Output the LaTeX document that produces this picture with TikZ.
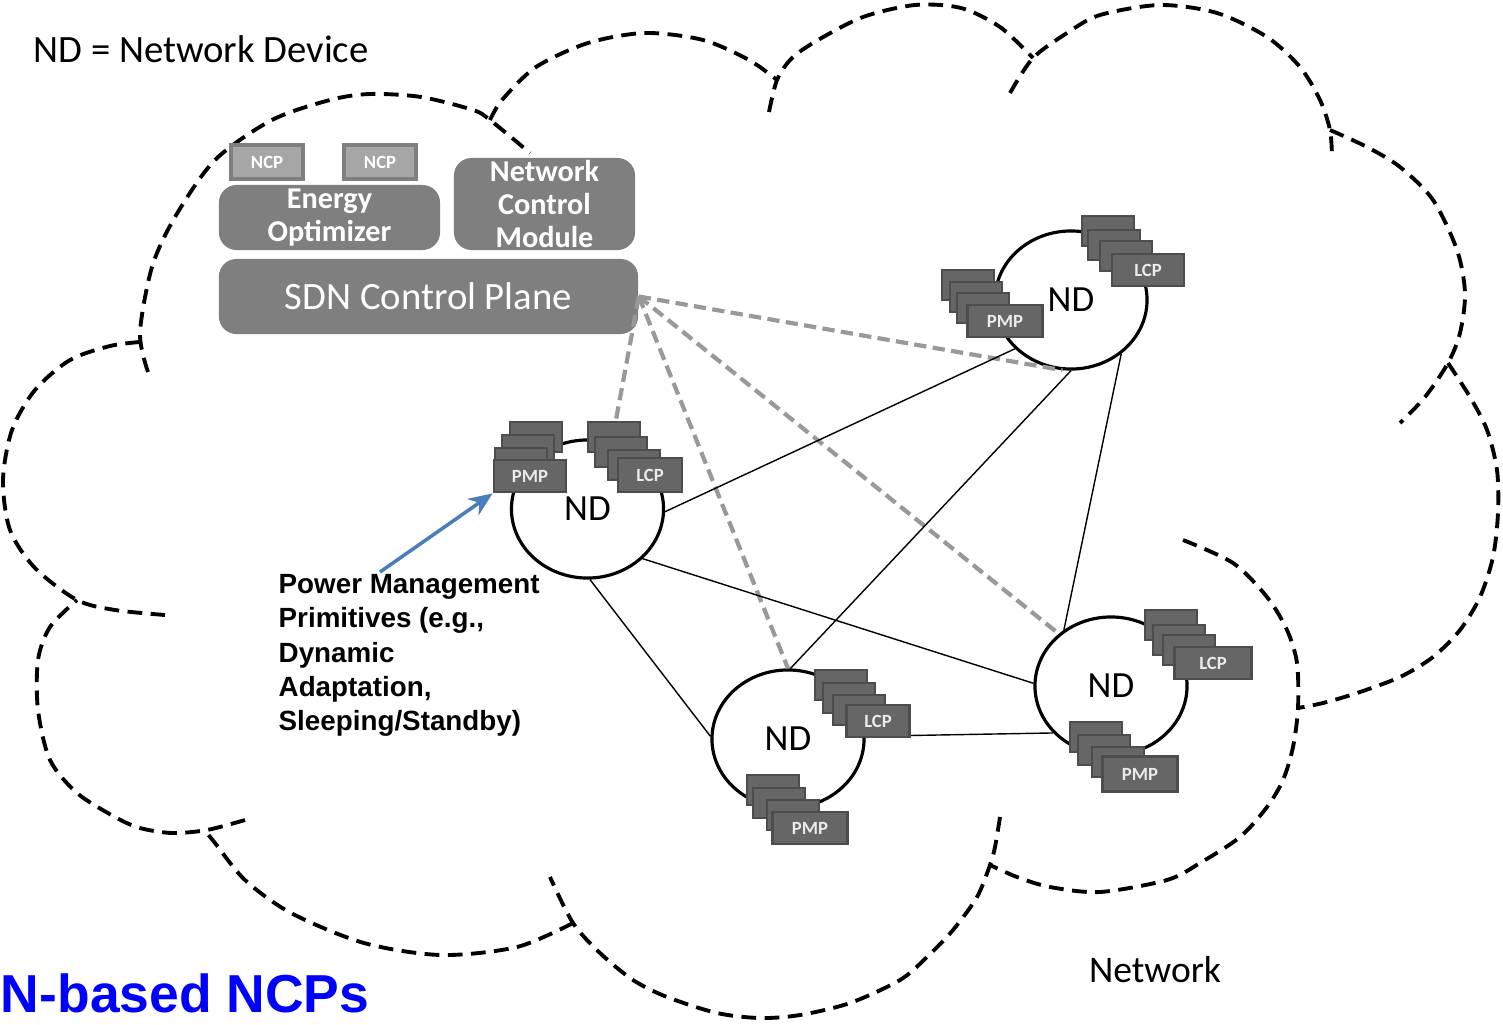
\documentclass[tikz,border=0pt]{standalone}
\usepackage{fontspec}
\setmainfont{Carlito}
\newfontfamily\arialfont{Liberation Sans}
\usepackage{xcolor}
\usepackage{tikz}
\usetikzlibrary{shapes.geometric, arrows.meta, positioning, calc}

\definecolor{planegray}{HTML}{7F7F7F}
\definecolor{ncpfill}{HTML}{A6A6A6}
\definecolor{cardfill}{HTML}{666666}
\definecolor{cardline}{HTML}{4D4D4D}
\definecolor{ctrlgray}{HTML}{999999}
\definecolor{armblue}{HTML}{4A7EBB}
\definecolor{titleblue}{HTML}{0000FF}

\begin{document}
\begin{tikzpicture}[
    x=0.01cm, y=-0.01cm,
    ctrlbox/.style={fill=planegray, rounded corners=5pt, text=white, align=center, inner sep=0pt},
    ncpbox/.style={draw=planegray, fill=ncpfill, line width=1pt, text=white, font=\bfseries\fontsize{5.3}{6}\selectfont, minimum width=0.72cm, minimum height=0.34cm, inner sep=0pt},
    backcard/.style={draw=cardline, fill=cardfill, line width=0.8pt, minimum width=0.52cm, minimum height=0.3cm, inner sep=0pt},
    frontcard/.style={backcard, minimum width=0.72cm, minimum height=0.32cm, text=white!92!black, font=\bfseries\fontsize{5.3}{6}\selectfont},
    ndcirc/.style={ellipse, draw, line width=0.9pt, fill=white, minimum width=1.52cm, minimum height=1.38cm, inner sep=0pt, font=\fontsize{10.5}{12}\selectfont},
    bump/.style={dash pattern=on 4.2pt off 2.4pt, line width=1.1pt},
    ctrlline/.style={ctrlgray, dash pattern=on 3.5pt off 1.8pt, line width=1.2pt},
    ndlink/.style={line width=0.4pt},
    pmarrow/.style={-{Stealth[length=2.4mm, width=2mm]}, armblue, line width=1pt}
]
\useasboundingbox (0,0) rectangle (1503,1024);
\clip (0,0) rectangle (1503,1024);

% Cloud
\draw[bump] plot[smooth] coordinates {(148,372) (140,333) (152,267) (175,217) (215,160) (272,120) (330,100) (370,94) (421,97) (473,110) (490,120) (530,153)};
\draw[bump] plot[smooth] coordinates {(490,120) (502,100) (536,67) (588,43) (645,33) (703,40) (749,60) (777,80)};
\draw[bump] plot[smooth] coordinates {(769,112) (777,80) (792,58) (818,40) (863,17) (915,5) (961,8) (1000,27) (1033,58)};
\draw[bump] plot[smooth] coordinates {(1010,93) (1033,58) (1067,33) (1100,15) (1160,5) (1217,13) (1267,37) (1300,67) (1320,100) (1330,130) (1332,157)};
\draw[bump] plot[smooth] coordinates {(1330,130) (1367,147) (1400,167) (1433,200) (1457,250) (1465,293) (1460,333) (1448,363) (1425,397) (1400,423)};
\draw[bump] plot[smooth] coordinates {(1448,363) (1470,397) (1487,430) (1497,470) (1498,513) (1493,557) (1480,597) (1460,630) (1433,657) (1400,677) (1357,693) (1323,703) (1298,708)};
\draw[bump] plot[smooth] coordinates {(1183,540) (1233,563) (1267,597) (1287,630) (1297,663) (1298,708) (1293,747) (1283,780) (1267,807) (1240,837) (1200,863) (1167,880) (1100,892) (1050,887) (1017,877) (990,865)};
\draw[bump] plot[smooth] coordinates {(1000,817) (995,847) (990,865) (977,897) (953,930) (927,957) (900,980) (850,1003) (800,1015) (760,1018) (717,1013) (667,997) (633,980) (600,953) (573,923) (550,877)};
\draw[bump] plot[smooth] coordinates {(573,923) (517,947) (441,955) (364,943) (291,913) (245,880) (215,843) (207,833)};
\draw[bump] plot[smooth] coordinates {(245,820) (207,830) (172,833) (140,828) (115,817) (77,793) (50,760) (38,710) (38,660) (50,627) (77,600)};
\draw[bump] plot[smooth] coordinates {(140,342) (110,346) (70,360) (35,390) (12,430) (3,480) (10,530) (35,568) (77,600) (115,610) (165,615)};

% Labels
\node[anchor=west, inner sep=0pt, font=\fontsize{11}{13}\selectfont] (legend) at (33,49) {ND = Network Device};
\node[inner sep=0pt, font=\fontsize{10.7}{13}\selectfont] (netname) at (1155,970) {Network};
\node[anchor=base east, inner sep=0pt, text=titleblue, font=\arialfont\bfseries\fontsize{15.2}{18}\selectfont] (title) at (370,1012) {SDN-based NCPs};

% SDN controller
\node[ctrlbox, minimum width=4.19cm, minimum height=0.75cm, font=\fontsize{11}{13}\selectfont] (sdn) at (428.5,296.5) {SDN Control Plane};
\node[ctrlbox, minimum width=2.21cm, minimum height=0.65cm, font=\bfseries\fontsize{8.6}{9.4}\selectfont] (eo) at (329.5,217.5) {Energy\\Optimizer};
\node[ctrlbox, minimum width=1.81cm, minimum height=0.92cm, font=\bfseries\fontsize{8.6}{9.3}\selectfont] (ncm) at (544.5,204) {Network\\Control\\Module};
\node[ncpbox] (ncpa) at (267,162) {NCP};
\node[ncpbox] (ncpb) at (380,162) {NCP};

% Network devices
\node[ndcirc] (nd1) at (587.5,509) {ND};
\node[ndcirc] (nd2) at (1071,300) {ND};
\node[ndcirc] (nd3) at (788,739) {ND};
\node[ndcirc] (nd4) at (1111,686) {ND};

% Control links
\draw[ctrlline] (sdn.east) -- (nd1.70);
\draw[ctrlline] (sdn.east) -- (nd3.90);
\draw[ctrlline] (sdn.east) -- (nd4.135);
\draw[ctrlline] (sdn.east) -- (nd2.263);

% Data links
\draw[ndlink] (nd1.358) -- (nd2.221);
\draw[ndlink] (nd1.318) -- (nd4.178);
\draw[ndlink] (nd1.272) -- (nd3.178);
\draw[ndlink] (nd3.88) -- (nd2.270);
\draw[ndlink] (nd2.313) -- (nd4.130);
\draw[ndlink] (nd3.2) -- (nd4.219);

% Primitives of ND 1
\node[backcard] (nd1pmpc) at (536,437) {};
\node[backcard] (nd1pmpb) at (528,450) {};
\node[backcard] (nd1pmpa) at (521,463) {};
\node[frontcard] (nd1pmp) at (530,476) {PMP};
\node[backcard] (nd1lcpc) at (614,437) {};
\node[backcard] (nd1lcpb) at (621,452) {};
\node[backcard] (nd1lcpa) at (634,465) {};
\node[frontcard, minimum width=0.64cm, minimum height=0.34cm] (nd1lcp) at (650,475) {LCP};

% Primitives of ND 2
\node[backcard] (nd2lcpc) at (1108,231) {};
\node[backcard] (nd2lcpb) at (1114,245) {};
\node[backcard] (nd2lcpa) at (1126,256) {};
\node[frontcard] (nd2lcp) at (1148,270) {LCP};
\node[backcard] (nd2pmpc) at (968,285) {};
\node[backcard] (nd2pmpb) at (976,297) {};
\node[backcard] (nd2pmpa) at (983,308) {};
\node[frontcard, minimum width=0.75cm] (nd2pmp) at (1005,321) {PMP};

% Primitives of ND 3
\node[backcard] (nd3lcpc) at (841,685) {};
\node[backcard] (nd3lcpb) at (849,698) {};
\node[backcard] (nd3lcpa) at (859,710) {};
\node[frontcard, minimum width=0.63cm] (nd3lcp) at (878,721) {LCP};
\node[backcard] (nd3pmpc) at (773,790) {};
\node[backcard] (nd3pmpb) at (779,803) {};
\node[backcard] (nd3pmpa) at (793,815) {};
\node[frontcard, minimum width=0.75cm] (nd3pmp) at (810,828) {PMP};

% Primitives of ND 4
\node[backcard] (nd4lcpc) at (1171,625) {};
\node[backcard] (nd4lcpb) at (1179,640) {};
\node[backcard] (nd4lcpa) at (1189,650) {};
\node[frontcard, minimum width=0.77cm] (nd4lcp) at (1213,663) {LCP};
\node[backcard] (nd4pmpc) at (1096,737) {};
\node[backcard] (nd4pmpb) at (1104,750) {};
\node[backcard] (nd4pmpa) at (1118,762) {};
\node[frontcard, minimum width=0.75cm, minimum height=0.35cm] (nd4pmp) at (1140,774) {PMP};

% Annotation
\node[anchor=north west, align=left, inner sep=0pt, font=\arialfont\bfseries\fontsize{7.9}{9.7}\selectfont] (pmtext) at (278,574) {Power Management\\Primitives (e.g.,\\Dynamic\\Adaptation,\\Sleeping/Standby)};
\coordinate (armfoot) at (380,572);
\draw[pmarrow] (armfoot) -- (nd1pmp.south west);

\end{tikzpicture}
\end{document}
